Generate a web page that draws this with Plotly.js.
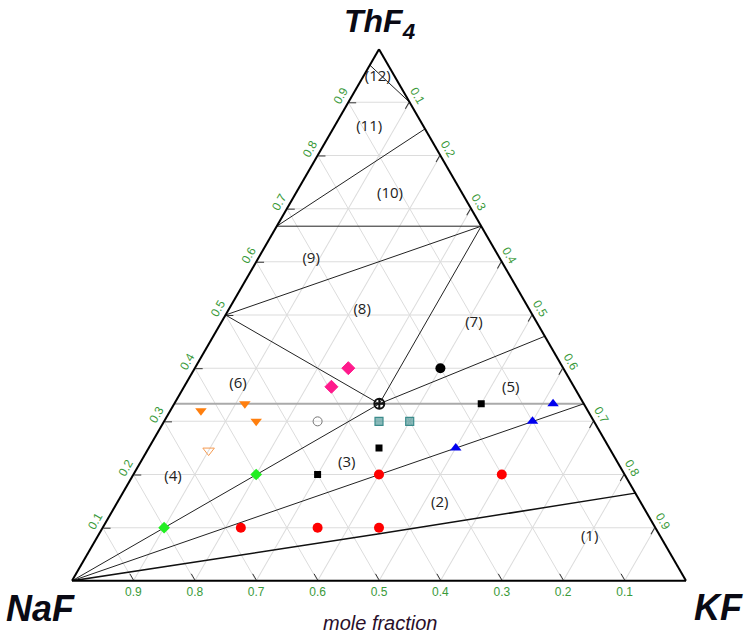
<!DOCTYPE html>
<html>
<head>
<meta charset="utf-8">
<script src="https://cdn.plot.ly/plotly-3.0.1.min.js"></script>
<style>html,body{margin:0;padding:0;background:#fff;}#chart{width:744px;height:633px;}</style>
</head>
<body>
<div id="chart"></div>
<script>
// Axis ticks
const tickVals = [0.1,0.2,0.3,0.4,0.5,0.6,0.7,0.8,0.9];
const tickText = ['0.1','0.2','0.3','0.4','0.5','0.6','0.7','0.8','0.9'];

// Phase boundary lines (a = ThF4, b = NaF, c = KF), segments separated by null
const lineA = [0, 0.333, null, 0, 0.333, null, 0.333, 0.46, null,
               0.5, 0.333, null, 0.667, 0.333, null, 0.5, 0.667, null, 0.667, 0.667, null,
               0.667, 0.85, null, 0.97, 0.9];
const lineB = [1, 0.333, null, 1, 0, null, 0.333, 0, null,
               0.5, 0.333, null, 0, 0.333, null, 0.5, 0, null, 0.333, 0, null,
               0.333, 0, null, 0.03, 0];
const lineC = [0, 0.334, null, 0, 0.667, null, 0.334, 0.54, null,
               0, 0.334, null, 0.333, 0.334, null, 0, 0.333, null, 0, 0.333, null,
               0, 0.15, null, 0, 0.1];

// boundary between regions (1) and (2)
const lowA = [0, 0.088, 0.165];
const lowB = [1, 0.458, 0];
const lowC = [0, 0.454, 0.835];

// x(ThF4) = 1/3 isopleth
const isoA = [0.333, 0.333];
const isoB = [0.667, 0];
const isoC = [0, 0.667];

// Data points
const redA = [0.1, 0.1, 0.1, 0.2, 0.2];
const redB = [0.675, 0.55, 0.45, 0.4, 0.2];
const redC = [0.225, 0.35, 0.45, 0.4, 0.6];

const greenA = [0.1, 0.2];
const greenB = [0.8, 0.6];
const greenC = [0.1, 0.2];

const sqA = [0.2, 0.25, 0.333];
const sqB = [0.5, 0.375, 0.167];
const sqC = [0.3, 0.375, 0.5];

const dotA = [0.4];
const dotB = [0.2];
const dotC = [0.4];

const eutA = [0.333];
const eutB = [0.333];
const eutC = [0.334];

const openA = [0.3];
const openB = [0.45];
const openC = [0.25];

const tealA = [0.3, 0.3];
const tealB = [0.35, 0.3];
const tealC = [0.35, 0.4];

const pinkA = [0.4, 0.365];
const pinkB = [0.35, 0.395];
const pinkC = [0.25, 0.24];

const orA = [0.32, 0.333, 0.3];
const orB = [0.63, 0.552, 0.55];
const orC = [0.05, 0.115, 0.15];

const orOpenA = [0.245];
const orOpenB = [0.655];
const orOpenC = [0.1];

const blueA = [0.25, 0.3, 0.333];
const blueB = [0.25, 0.1, 0.05];
const blueC = [0.5, 0.6, 0.617];

// Region labels
const regText = ['(1)','(2)','(3)','(4)','(5)','(6)','(7)','(8)','(9)','(10)','(11)','(12)'];
const regA = [0.082, 0.146, 0.221, 0.195, 0.363, 0.369, 0.485, 0.509, 0.605, 0.728, 0.854, 0.948];
const regB = [0.116, 0.328, 0.442, 0.738, 0.104, 0.545, 0.103, 0.273, 0.308, 0.118, 0.089, 0.028];
const regC = [0.802, 0.526, 0.337, 0.067, 0.533, 0.086, 0.412, 0.218, 0.087, 0.154, 0.057, 0.024];

function pts(a, b, c, symbol, color, size, lineColor, lineWidth) {
  return {type:'scatterternary', mode:'markers', a:a, b:b, c:c, hoverinfo:'skip',
    marker:{symbol:symbol, color:color, size:size, line:{color:lineColor||color, width:lineWidth||0}}};
}

const traces = [
  {type:'scatterternary', mode:'lines', a:isoA, b:isoB, c:isoC, hoverinfo:'skip',
   line:{color:'#aaaaaa', width:2}},
  {type:'scatterternary', mode:'lines', a:lineA, b:lineB, c:lineC, hoverinfo:'skip', connectgaps:false,
   line:{color:'#222222', width:1}},
  {type:'scatterternary', mode:'lines', a:lowA, b:lowB, c:lowC, hoverinfo:'skip',
   line:{color:'#111111', width:1.5}},
  pts(redA, redB, redC, 'circle', '#ff0000', 10),
  pts(greenA, greenB, greenC, 'diamond', '#22ee22', 9),
  pts(sqA, sqB, sqC, 'square', '#000000', 7),
  pts(dotA, dotB, dotC, 'circle', '#000000', 10),
  pts(eutA, eutB, eutC, 'circle-cross-open', '#111111', 10, '#111111', 2),
  pts(openA, openB, openC, 'circle-open', '#777777', 9, '#777777', 1),
  pts(tealA, tealB, tealC, 'square', 'rgba(60,140,140,0.6)', 8, '#3c8c8c', 1.2),
  pts(pinkA, pinkB, pinkC, 'diamond', '#ff1a8c', 10, '#ff1a8c', 1),
  pts(orA, orB, orC, 'triangle-down', '#ff7f0e', 10),
  pts(orOpenA, orOpenB, orOpenC, 'triangle-down-open', '#f59a50', 10, '#f59a50', 1),
  pts(blueA, blueB, blueC, 'triangle-up', '#0000ee', 10),
  {type:'scatterternary', mode:'text', a:regA, b:regB, c:regC, text:regText, hoverinfo:'skip',
   textposition:'middle center', cliponaxis:false,
   textfont:{family:'Open Sans, Noto Sans, sans-serif', size:15, color:'#222222'}}
];

function axis(angle) {
  return {
    tickmode:'array', tickvals:tickVals, ticktext:tickText, tickangle:angle,
    tickfont:{family:'Liberation Sans, Arial, sans-serif', size:12, color:'#3a9a3a'},
    ticks:'inside', ticklen:7, tickcolor:'#333333', tickwidth:1,
    showline:true, linecolor:'#000000', linewidth:2,
    showgrid:true, gridcolor:'#dcdcdc', gridwidth:1,
    min:0, title:{text:''}
  };
}

const W = 744, H = 633;
const layout = {
  width:W, height:H,
  margin:{l:0, r:0, t:0, b:0},
  paper_bgcolor:'#ffffff',
  showlegend:false,
  ternary:{
    sum:1,
    domain:{x:[72/W, 686/W], y:[1-582/H, 1-48/H]},
    bgcolor:'#ffffff',
    aaxis:axis(-60),
    baxis:axis(0),
    caxis:axis(60)
  },
  annotations:[
    {text:'<b><i>ThF<sub>4</sub></i></b>', x:380/W, y:1-24/H, xref:'paper', yref:'paper', showarrow:false,
     xanchor:'center', yanchor:'middle', font:{family:'Liberation Sans, Arial, sans-serif', size:32, color:'#0a0a14'}},
    {text:'<b><i>NaF</i></b>', x:40/W, y:1-608/H, xref:'paper', yref:'paper', showarrow:false,
     xanchor:'center', yanchor:'middle', font:{family:'Liberation Sans, Arial, sans-serif', size:36, color:'#0a0a14'}},
    {text:'<b><i>KF</i></b>', x:718/W, y:1-607/H, xref:'paper', yref:'paper', showarrow:false,
     xanchor:'center', yanchor:'middle', font:{family:'Liberation Sans, Arial, sans-serif', size:36, color:'#0a0a14'}},
    {text:'<i>mole fraction</i>', x:380/W, y:1-623/H, xref:'paper', yref:'paper', showarrow:false,
     xanchor:'center', yanchor:'middle', font:{family:'Liberation Sans, Arial, sans-serif', size:20, color:'#2a0f2a'}}
  ]
};

Plotly.newPlot('chart', traces, layout, {displayModeBar:false, staticPlot:true});
</script>
</body>
</html>
